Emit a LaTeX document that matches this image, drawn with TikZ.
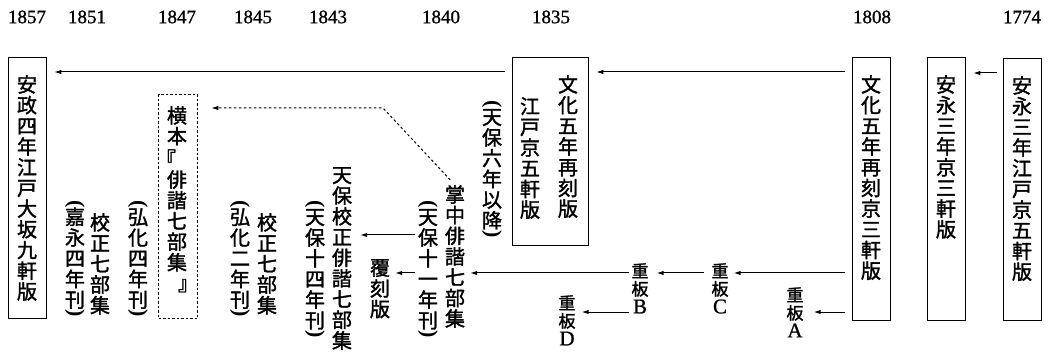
\documentclass[tikz,border=0pt]{standalone}
\usepackage{fontspec}
\usepackage{graphicx}
\setmainfont{Liberation Serif}
\newfontfamily\cjk[FakeBold=1.6]{Noto Sans CJK JP}
\newfontfamily\yrfont[FakeBold=1]{Liberation Serif}
\usetikzlibrary{arrows.meta}
\newcommand\OP{\rotatebox{-90}{\rmfamily\bfseries\fontsize{22}{22}\selectfont (}}
\newcommand\CP{\rotatebox{-90}{\rmfamily\bfseries\fontsize{22}{22}\selectfont )}}
\newcommand\Lt[1]{{\yrfont\fontsize{21}{21}\selectfont #1}}
\newcommand\vtfont{\cjk\fontsize{20}{20.7}\selectfont\lineskiplimit=-100pt\relax}
\newcommand\vsfont{\cjk\fontsize{17}{18}\selectfont\lineskiplimit=-100pt\relax}
\begin{document}
\begin{tikzpicture}[x=1pt,y=-1pt,
  vt/.style={font=\vtfont, align=center, inner sep=0pt, anchor=north},
  vs/.style={font=\vsfont, align=center, inner sep=0pt, anchor=north},
  yr/.style={font=\yrfont\fontsize{19}{19}\selectfont, inner sep=0pt},
  box/.style={draw, line width=1.3pt, inner sep=0pt, anchor=north west},
  dbox/.style={draw, line width=1.3pt, dash pattern=on 2.5pt off 2pt, inner sep=0pt, anchor=north west},
  arr/.style={-{Latex[length=7pt,width=4.5pt]}, line width=1pt},
  darr/.style={arr, dash pattern=on 2.5pt off 2.5pt},
]
\useasboundingbox (0,0) rectangle (1048,352);

% years
\node[yr] (y1857) at (27,17) {1857};
\node[yr] (y1851) at (87,17) {1851};
\node[yr] (y1847) at (177,17) {1847};
\node[yr] (y1845) at (253,17) {1845};
\node[yr] (y1843) at (328,17) {1843};
\node[yr] (y1840) at (441,17) {1840};
\node[yr] (y1835) at (551,17) {1835};
\node[yr] (y1808) at (872,17) {1808};
\node[yr] (y1774) at (1022,17) {1774};

% boxes
\node[box, minimum width=38, minimum height=261] (b1857) at (8,57) {};
\node[dbox, minimum width=39, minimum height=224] (byoko) at (158,94) {};
\node[box, minimum width=76, minimum height=188] (b1835) at (512,57) {};
\node[box, minimum width=38, minimum height=263] (b1808) at (852,57) {};
\node[box, minimum width=38, minimum height=263] (bak) at (927,57) {};
\node[box, minimum width=38, minimum height=262] (bae) at (1003,58) {};

% texts
\node[vt] (t1857) at (27,75) {安\\政\\四\\年\\江\\戸\\大\\坂\\九\\軒\\版};
\node[vt] (tkaei) at (75,200) {\OP\\[3.5pt]嘉\\永\\四\\年\\刊\\[-18.2pt]\CP};
\node[vt] (tkosei1) at (100,213) {校\\正\\七\\部\\集};
\node[vt] (tkoka4) at (138,200) {\OP\\[3.5pt]弘\\化\\四\\年\\刊\\[-18.2pt]\CP};
\node[vt] (tyoko) at (177,106) {横\\本\\[2pt]\hbox to 20pt{\kern-11pt『\hss}\\俳\\諧\\七\\部\\集\\\hbox to 20pt{\hss』\kern-11pt}};
\node[vt] (tkoka2) at (240,200) {\OP\\[3.5pt]弘\\化\\二\\年\\刊\\[-18.2pt]\CP};
\node[vt] (tkosei2) at (267,213) {校\\正\\七\\部\\集};
\node[vt] (ttenpo14) at (315,200) {\OP\\[3.5pt]天\\保\\十\\四\\年\\刊\\[-18.2pt]\CP};
\node[vt] (ttkosei) at (342,167) {天\\保\\校\\正\\俳\\諧\\七\\部\\集};
\node[vt] (tfuku) at (380,259) {覆\\刻\\版};
\node[vt] (ttenpo11) at (428,200) {\OP\\[3.5pt]天\\保\\十\\一\\年\\刊\\[-18.2pt]\CP};
\node[vt] (tsho) at (455,185) {掌\\中\\俳\\諧\\七\\部\\集};
\node[vt] (ttenpo6) at (492,100) {\OP\\[3.5pt]天\\保\\六\\年\\以\\降\\[-18.2pt]\CP};
\node[vt] (tbunka) at (568,75) {文\\化\\五\\年\\再\\刻\\版};
\node[vt] (tedo5) at (530,97) {江\\戸\\京\\五\\軒\\版};
\node[vs] (tD) at (567,295) {重\\板\\\Lt{D}};
\node[vs] (tB) at (640,263) {重\\板\\\Lt{B}};
\node[vs] (tC) at (720,263) {重\\板\\\Lt{C}};
\node[vs] (tA) at (795,287) {重\\板\\\Lt{A}};
\node[vt] (t1808) at (871,75) {文\\化\\五\\年\\再\\刻\\京\\三\\軒\\版};
\node[vt] (tak) at (946,75) {安\\永\\三\\年\\京\\三\\軒\\版};
\node[vt] (tae) at (1022,76) {安\\永\\三\\年\\江\\戸\\京\\五\\軒\\版};

% helper rows
\coordinate (r72) at (0,72);
\coordinate (r73) at (0,73);
\coordinate (r235) at (0,235);
\coordinate (r273) at (0,273);
\coordinate (r312) at (0,312);
\coordinate (dk) at (383,108);
\coordinate (r108) at (0,108);

% connectors
\draw[arr, shorten <=7pt, shorten >=7pt] (b1835.west |- r72) -- (b1857.east |- r72);
\draw[arr, shorten <=7pt, shorten >=7pt] (b1808.west |- r72) -- (b1835.east |- r72);
\draw[arr, shorten <=6pt, shorten >=7pt] (bae.west |- r73) -- (bak.east |- r73);
\draw[darr, shorten <=7pt, shorten >=13pt] (tsho.north) -- (dk) -- (byoko.east |- r108);
\draw[arr, shorten <=7pt, shorten >=5pt] (b1808.west |- r273) -- (tC.east |- r273);
\draw[arr, shorten <=7pt, shorten >=8pt] (tC.west |- r273) -- (tB.east |- r273);
\draw[arr, shorten <=2pt, shorten >=5pt] (tB.west |- r273) -- (tsho.east |- r273);
\draw[arr, shorten <=7pt, shorten >=10pt] (b1808.west |- r312) -- (tA.east |- r312);
\draw[arr, shorten <=2pt, shorten >=6pt] (tB.west |- r312) -- (tD.east |- r312);
\draw[arr, shorten <=3pt, shorten >=5pt] (ttenpo11.west |- r273) -- (tfuku.east |- r273);
\draw[arr, shorten <=3pt, shorten >=8pt] (ttenpo11.west |- r235) -- (ttkosei.east |- r235);
\end{tikzpicture}
\end{document}
